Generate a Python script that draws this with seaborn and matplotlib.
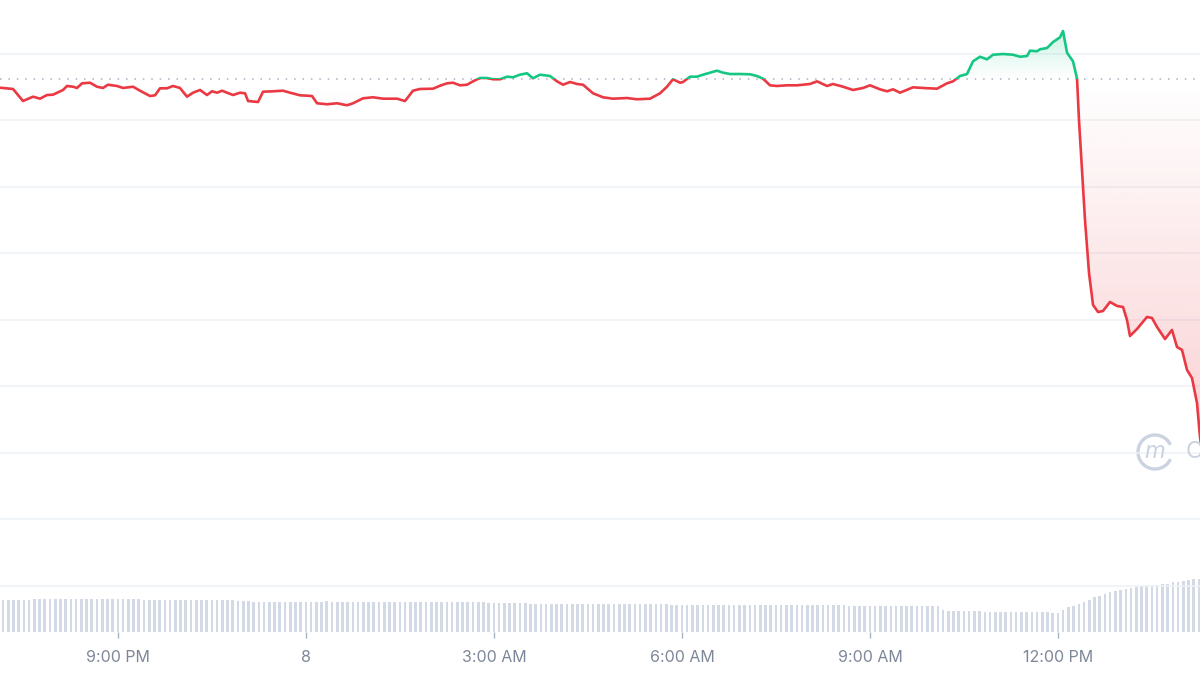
import numpy as np
import pandas as pd
import matplotlib
matplotlib.use("Agg")
import matplotlib.pyplot as plt
from matplotlib.patches import Rectangle, Polygon, Arc
import seaborn as sns

# --- data (hours relative to midnight of day "8") ---
hours = [
    -4.883, -4.675, -4.516, -4.356, -4.244, -4.133, -4.037, -3.877, -3.814, -3.718,
    -3.654, -3.574, -3.447, -3.335, -3.239, -3.160, -3.016, -2.920, -2.760, -2.649,
    -2.489, -2.409, -2.330, -2.218, -2.122, -2.011, -1.899, -1.803, -1.691, -1.580,
    -1.500, -1.420, -1.340, -1.165, -1.053, -0.973, -0.925, -0.766, -0.686, -0.527,
    -0.367, -0.255, -0.096, 0.096, 0.176, 0.335, 0.495, 0.654, 0.750, 0.910,
    1.069, 1.229, 1.452, 1.580, 1.707, 1.819, 2.026, 2.138, 2.250, 2.346,
    2.457, 2.569, 2.665, 2.776, 2.888, 2.984, 3.096, 3.207, 3.303, 3.415,
    3.526, 3.622, 3.734, 3.893, 4.005, 4.101, 4.213, 4.324, 4.420, 4.580,
    4.739, 4.899, 5.122, 5.282, 5.489, 5.649, 5.760, 5.856, 5.968, 6.016,
    6.127, 6.239, 6.335, 6.446, 6.558, 6.654, 6.766, 6.925, 7.085, 7.196,
    7.292, 7.404, 7.516, 7.675, 7.835, 8.042, 8.154, 8.313, 8.409, 8.569,
    8.728, 8.888, 8.999, 9.159, 9.271, 9.367, 9.478, 9.686, 9.845, 10.069,
    10.228, 10.324, 10.436, 10.547, 10.643, 10.755, 10.866, 10.962, 11.122, 11.281,
    11.393, 11.505, 11.553, 11.664, 11.712, 11.824, 11.920, 12.031, 12.079, 12.143,
    12.239, 12.303, 12.334, 12.382, 12.430, 12.494, 12.558, 12.638, 12.717, 12.829,
    12.941, 13.037, 13.100, 13.148, 13.260, 13.419, 13.499, 13.579, 13.707, 13.818,
    13.898, 13.978, 14.058, 14.137, 14.217, 14.265, 14.313,
]
price = [
    7.493, 7.474, 7.293, 7.358, 7.328, 7.383, 7.388, 7.459, 7.519, 7.508,
    7.489, 7.559, 7.568, 7.508, 7.489, 7.538, 7.519, 7.489, 7.508, 7.448,
    7.368, 7.379, 7.484, 7.484, 7.519, 7.489, 7.358, 7.418, 7.459, 7.383,
    7.439, 7.418, 7.448, 7.383, 7.418, 7.409, 7.293, 7.278, 7.433, 7.439,
    7.448, 7.418, 7.379, 7.368, 7.259, 7.244, 7.259, 7.229, 7.259, 7.334,
    7.349, 7.328, 7.328, 7.293, 7.448, 7.474, 7.478, 7.523, 7.559, 7.568,
    7.529, 7.538, 7.589, 7.639, 7.639, 7.620, 7.620, 7.659, 7.650, 7.689,
    7.710, 7.635, 7.689, 7.669, 7.589, 7.538, 7.579, 7.549, 7.538, 7.409,
    7.349, 7.328, 7.338, 7.319, 7.328, 7.409, 7.508, 7.620, 7.568, 7.579,
    7.659, 7.659, 7.689, 7.719, 7.749, 7.719, 7.699, 7.699, 7.695, 7.669,
    7.629, 7.529, 7.519, 7.529, 7.529, 7.549, 7.589, 7.519, 7.549, 7.508,
    7.459, 7.489, 7.529, 7.469, 7.439, 7.469, 7.418, 7.499, 7.489, 7.478,
    7.559, 7.589, 7.669, 7.699, 7.890, 7.959, 7.920, 7.989, 8.000, 7.989,
    7.959, 7.970, 8.050, 8.041, 8.071, 8.090, 8.180, 8.251, 8.346, 8.020,
    7.890, 7.629, 7.008, 6.256, 5.504, 4.707, 4.226, 4.120, 4.135, 4.271,
    4.211, 4.195, 4.000, 3.759, 3.865, 4.045, 4.030, 3.895, 3.714, 3.850,
    3.594, 3.549, 3.248, 3.128, 2.752, 2.241, 1.895,
]
open_price = 7.624

# volume, one bar per 5 minutes starting ~7:10 PM
vol_start = -4.835
volume = [
    32, 32, 32, 32, 32.5, 32.5, 33, 33, 33, 33, 33, 33,
    33, 33, 33.5, 33.5, 33.5, 33, 33, 33, 33, 33, 33, 33,
    33, 33, 33, 32.5, 32.5, 32.5, 32.5, 32.5, 32.5, 32.5, 32.5, 32,
    32, 32, 32, 32, 32, 32, 32, 32, 32, 31.5, 31.5, 31,
    30.5, 30.5, 30.5, 30.5, 30.5, 30.5, 30.5, 30.5, 30.5, 30.5, 30.5, 30.5,
    30.5, 30.5, 31, 30.5, 30.5, 30.5, 30.5, 30.5, 30.5, 30.5, 30.5, 30.5,
    30.5, 30.5, 30.5, 30.5, 30.5, 30.5, 30, 30, 30, 30, 30, 30,
    30, 30, 30, 30, 30, 30, 30, 30, 30, 29.5, 29.5, 29.5,
    29, 29, 29, 29, 29, 28.5, 28.5, 28.5, 28.5, 28.5, 28, 28,
    28, 28, 28, 28, 28, 28, 28, 28, 28, 28, 28, 28,
    28, 28, 28, 28, 28, 28, 28, 28, 27.5, 27.5, 27.5, 27.5,
    27.5, 27.5, 27.5, 27.5, 27.5, 27.5, 27.5, 27.5, 27.5, 27.5, 27.5, 27.5,
    27, 27, 27, 27, 27, 27, 27, 27, 27, 27, 27, 27,
    27, 27, 27, 27, 27, 27, 26.5, 26.5, 26.5, 26.5, 26.5, 26.5,
    26.5, 26.5, 26.5, 26.5, 26.5, 26.5, 26.5, 26.5, 26.5, 26.5, 26.5, 26.5,
    22, 21.5, 21.5, 21.5, 21.5, 21.5, 21.5, 21, 20, 20, 20, 20,
    20, 20, 20, 20, 20, 20, 20, 20, 20, 19.5, 19, 22,
    25, 26.5, 28, 30, 32.5, 35, 36, 38, 40, 41.3, 42, 43,
    44, 45, 46, 46.5, 47, 47.5, 48, 48.5, 50, 50, 51, 52.5,
    52.7, 53.3,
]

tick_hours = [-3, 0, 3, 6, 9, 12]
tick_labels = ["9:00 PM", "8", "3:00 AM", "6:00 AM", "9:00 AM", "12:00 PM"]

GREEN = "#16C784"
RED = "#EA3943"
VOL = "#D3D9E5"

sns.set_theme(style="white")
plt.rcParams["font.family"] = ["Inter", "DejaVu Sans"]

fig = plt.figure(figsize=(12, 6.75), dpi=100)
rect = [0, 43 / 675, 1, 632 / 675]
ax = fig.add_axes(rect)
axv = ax.twinx()
ax.set_zorder(2)
axv.set_zorder(1)
ax.patch.set_visible(False)

x0, x1 = -4.883, 14.265
y0, y1 = -0.692, 8.812

# volume bars
vol_x = vol_start + np.arange(len(volume)) * (5 / 60)
axv.bar(vol_x, volume, width=0.042, color=VOL, linewidth=0)
axv.set_ylim(0, 632)
axv.set_yticks([])
for s in axv.spines.values():
    s.set_visible(False)

df = pd.DataFrame({"hour": hours, "price": price})
x = df["hour"].to_numpy()
y = df["price"].to_numpy()

# gradient fills between price and open
def gradient_fill(top, lo, hi, color, amax, up):
    rgb = matplotlib.colors.to_rgb(color)
    grad = np.zeros((256, 1, 4))
    grad[:, 0, :3] = rgb
    a = np.linspace(0, amax, 256)
    grad[:, 0, 3] = a if up else a[::-1]
    verts = np.column_stack([np.r_[x[0], x, x[-1]], np.r_[open_price, top, open_price]])
    poly = Polygon(verts, closed=True, facecolor="none", edgecolor="none", transform=ax.transData)
    ax.add_patch(poly)
    img = ax.imshow(grad, extent=[x0, x1, lo, hi], origin="lower", aspect="auto", zorder=1)
    img.set_clip_path(poly)

gradient_fill(np.maximum(y, open_price), open_price, y.max(), GREEN, 0.22, True)
gradient_fill(np.minimum(y, open_price), y.min(), open_price, RED, 0.24, False)

# price line, red below open and green above
for color, lo, hi in [(RED, -50, open_price), (GREEN, open_price, 50)]:
    sns.lineplot(data=df, x="hour", y="price", color=color, linewidth=1.9,
                 estimator=None, sort=False, ax=ax, zorder=3)
    ln = ax.lines[-1]
    ln.set_clip_path(Rectangle((-50, lo), 100, hi - lo, transform=ax.transData))

ax.axhline(open_price, color="#A7B1C2", linestyle=(0, (1, 4.5)), linewidth=1.1, zorder=2)

ax.set_xlim(x0, x1)
ax.set_ylim(y0, y1)
ax.set_yticks(range(0, 9))
ax.yaxis.grid(True, color="#EFF2F5", linewidth=1.1)
ax.set_axisbelow(True)
ax.tick_params(axis="y", length=0, labelleft=False, labelright=False)
ax.set_xticks(tick_hours, tick_labels)
ax.tick_params(axis="x", bottom=True, length=4, width=1, color="#A6B0C3",
               labelcolor="#7D8799", labelsize=11.5, pad=9, direction="out")
ax.set_xlabel("")
ax.set_ylabel("")
for s in ax.spines.values():
    s.set_visible(False)

# watermark
wm = "#CBD3E1"
fig.add_artist(Arc((11.55, 2.23), 0.34, 0.34, theta1=25, theta2=335,
                   color=wm, linewidth=2.4, transform=fig.dpi_scale_trans))
fig.text(11.55 / 12, 2.23 / 6.75, "m", color=wm, fontsize=17, fontstyle="italic",
         ha="center", va="center")
fig.text(11.86 / 12, 2.23 / 6.75, "CoinMarketCap", color=wm, fontsize=17,
         ha="left", va="center")

fig.savefig("out.png", dpi=100)
